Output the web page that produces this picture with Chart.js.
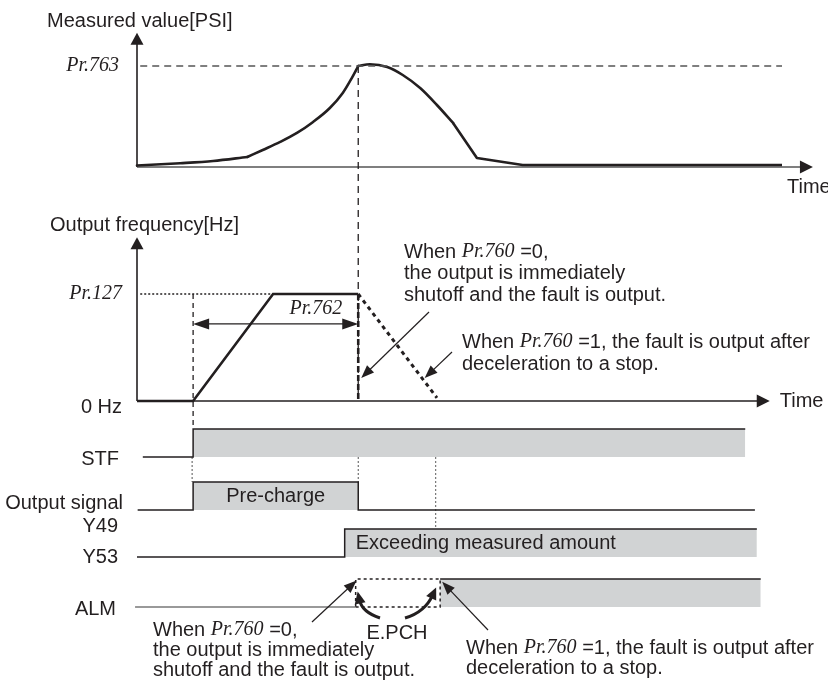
<!DOCTYPE html>
<html><head><meta charset="utf-8">
<script src="https://cdn.jsdelivr.net/npm/chart.js@4"></script>
<style>html,body{margin:0;padding:0;background:#fff}#wrap{width:828px;height:691px}</style>
</head><body><div id="wrap"><canvas id="c" width="828" height="691"></canvas></div>
<script>
// ---------------- DATA (time: 0 = origin, 100 = end of measured trace) ----------------
const baseTime  = [0, 6.7, 11.8, 17.1];
const baseValue = [1.5, 3.7, 5.9, 9.9];
const riseTime  = [17.1, 19.5, 22.2, 24.8, 27.3, 29.9, 31.9, 33.3, 34.3];
const riseValue = [9.9, 16.8, 24.8, 33.7, 44.6, 58.4, 73.3, 88.1, 100];
const fallTime  = [34.3, 36.1, 38.8, 41.2, 43.9, 46.5, 49.0];
const fallValue = [100, 101.7, 99, 91.1, 78.2, 61.4, 43.6];
const tailTime  = [49.0, 52.7, 59.8, 100];
const tailValue = [43.6, 8.9, 2, 2];
const thresholdTime = [0.5, 100];          // Pr.763 level line
const thresholdValue = [100, 100];

const freqTime  = [0, 8.7, 21.1, 34.3];
const freqValue = [0, 0, 100, 100];
const setFreqTime = [0.5, 21.1];           // Pr.127 level line
const setFreqValue = [100, 100];
const shutoffTime = [34.3, 34.3];
const shutoffValue = [100, 0];
const decelTime = [34.3, 46.5];
const decelValue = [100, 3];

const stfTime = [0.9, 8.7, 8.7, 94.3];            const stfLevel = [0, 0, 1, 1];
const y49Time = [0.1, 8.7, 8.7, 34.3, 34.3, 95.8]; const y49Level = [0, 0, 1, 1, 0, 0];
const y53Time = [0, 32.2, 32.2, 96.1];             const y53Level = [0, 0, 1, 1];
const almLowTime = [-0.3, 33.9];                   const almLowLevel = [0, 0];
const almPendTime = [33.9, 33.9, 47, 47, 33.9];    const almPendLevel = [0, 1, 1, 0, 0];
const almTime = [47, 96.7];                        const almLevel = [1, 1];

const startTime = 8.7, detectTime = 34.3, stopTime = 46.3, faultTime = 47;

const panelLabels = ['Measured value[PSI]', 'Output frequency[Hz]'];
const levelLabels = ['Pr.763', 'Pr.127', 'Pr.762'];
const signalLabels = ['STF', 'Output signal', 'Y49', 'Y53', 'ALM'];
const barLabels = ['Pre-charge', 'Exceeding measured amount', 'E.PCH'];

// ---------------- LAYOUT ----------------
const W = 828, H = 691;
const INK = '#231f20', FILL = '#d1d3d4';
const SANS = '20px "Liberation Sans", Arial, sans-serif';
const SERIF = 'italic 20px "Liberation Serif", "Times New Roman", serif';

function yRange(v0, p0, v1, p1) { const k = (p0 - p1) / (v1 - v0); const max = v0 + p0 / k; return {min: max - H / k, max}; }
function xRange(v0, p0, v1, p1) { const k = (p1 - p0) / (v1 - v0); const min = v0 - p0 / k; return {min, max: min + W / k}; }
const hid = r => Object.assign({type: 'linear', display: false, bounds: 'data'}, r);

const pts = (xs, ys) => xs.map((x, i) => ({x, y: ys[i]}));
const ds = (data, yAxisID, extra) => Object.assign({
  type: 'line', data, yAxisID, xAxisID: 'x', borderColor: INK, borderWidth: 1.5,
  pointRadius: 0, pointHoverRadius: 0, tension: 0, fill: false, borderCapStyle: 'butt'
}, extra);
const curve = {borderWidth: 2.6, cubicInterpolationMode: 'monotone', borderCapStyle: 'round'};

const datasets = [
  ds(pts(thresholdTime, thresholdValue), 'yPsi', {borderColor: '#555', borderWidth: 1.3, borderDash: [7, 5]}),
  ds(pts(baseTime, baseValue), 'yPsi', curve),
  ds(pts(riseTime, riseValue), 'yPsi', curve),
  ds(pts(fallTime, fallValue), 'yPsi', curve),
  ds(pts(tailTime, tailValue), 'yPsi', {borderWidth: 2.6, borderJoinStyle: 'round'}),
  ds(pts(setFreqTime, setFreqValue), 'yHz', {borderWidth: 1.3, borderDash: [2, 2]}),
  ds(pts(freqTime, freqValue), 'yHz', {borderWidth: 2.6}),
  ds(pts(shutoffTime, shutoffValue), 'yHz', {borderWidth: 2.6, borderDash: [6, 3]}),
  ds(pts(decelTime, decelValue), 'yHz', {borderWidth: 3, borderDash: [4, 4]}),
  ds(pts(stfTime, stfLevel), 'ySTF', {fill: 'origin', backgroundColor: FILL}),
  ds(pts(y49Time, y49Level), 'yY49', {fill: 'origin', backgroundColor: FILL}),
  ds(pts(y53Time, y53Level), 'yY53', {fill: 'origin', backgroundColor: FILL}),
  ds(pts(almLowTime, almLowLevel), 'yALM', {borderColor: '#777'}),
  ds(pts(almPendTime, almPendLevel), 'yALM', {borderDash: [3, 3]}),
  ds(pts(almTime, almLevel), 'yALM', {fill: 'origin', backgroundColor: FILL}),
];

function head(ctx, x, y, ang, len, wid) {
  ctx.save(); ctx.translate(x, y); ctx.rotate(ang);
  ctx.beginPath(); ctx.moveTo(0, 0); ctx.lineTo(-len, -wid / 2); ctx.lineTo(-len, wid / 2); ctx.closePath();
  ctx.fillStyle = INK; ctx.fill(); ctx.restore();
}
function arrow(ctx, x1, y1, x2, y2, lw, len, wid) {
  const a = Math.atan2(y2 - y1, x2 - x1);
  ctx.beginPath(); ctx.moveTo(x1, y1); ctx.lineTo(x2 - Math.cos(a) * len * 0.8, y2 - Math.sin(a) * len * 0.8);
  ctx.lineWidth = lw; ctx.strokeStyle = INK; ctx.setLineDash([]); ctx.stroke();
  head(ctx, x2, y2, a, len, wid);
}
function curved(ctx, x1, y1, cx, cy, x2, y2, lw, len, wid) {
  const a = Math.atan2(y2 - cy, x2 - cx);
  const bx = x2 - Math.cos(a) * len * 0.7, by = y2 - Math.sin(a) * len * 0.7;
  ctx.beginPath(); ctx.moveTo(x1, y1); ctx.quadraticCurveTo(cx, cy, bx, by);
  ctx.lineWidth = lw; ctx.strokeStyle = INK; ctx.setLineDash([]); ctx.stroke();
  head(ctx, x2, y2, a, len, wid);
}
function vline(ctx, x, y1, y2, lw, dash, color) {
  ctx.beginPath(); ctx.moveTo(x, y1); ctx.lineTo(x, y2);
  ctx.lineWidth = lw; ctx.strokeStyle = color || INK; ctx.setLineDash(dash); ctx.stroke(); ctx.setLineDash([]);
}
function rich(ctx, parts, x, y, align) {
  let w = 0; parts.forEach(([t, f]) => { ctx.font = f; w += ctx.measureText(t).width; });
  let cx = align === 'right' ? x - w : align === 'center' ? x - w / 2 : x;
  ctx.textAlign = 'left'; ctx.textBaseline = 'middle'; ctx.fillStyle = INK;
  parts.forEach(([t, f]) => { ctx.font = f; ctx.fillText(t, cx, y); cx += ctx.measureText(t).width; });
}
const S = t => [t, SANS], I = t => [t, SERIF];

const diagram = {
  id: 'diagram',
  beforeDraw(chart) { const c = chart.ctx; c.save(); c.fillStyle = '#fff'; c.fillRect(0, 0, W, H); c.restore(); },
  beforeDatasetsDraw(chart) {
    const c = chart.ctx, s = chart.scales;
    const X = v => s.x.getPixelForValue(v), P = v => s.yPsi.getPixelForValue(v), F = v => s.yHz.getPixelForValue(v);
    c.save();
    // top panel axes
    c.beginPath(); c.moveTo(X(0), P(0)); c.lineTo(X(0), P(133) + 10); c.lineWidth = 1.6; c.strokeStyle = INK; c.stroke();
    head(c, X(0), P(133), -Math.PI / 2, 12, 13);
    c.beginPath(); c.moveTo(X(0), P(0)); c.lineTo(X(104.8) - 10, P(0)); c.strokeStyle = '#555'; c.lineWidth = 1.6; c.stroke();
    head(c, X(104.8), P(0), 0, 13, 13);
    // frequency panel axes
    c.beginPath(); c.moveTo(X(0), F(0)); c.lineTo(X(0), F(153) + 10); c.lineWidth = 1.6; c.strokeStyle = INK; c.stroke();
    head(c, X(0), F(153), -Math.PI / 2, 12, 13);
    c.beginPath(); c.moveTo(X(0), F(0)); c.lineTo(X(98.1) - 10, F(0)); c.lineWidth = 1.3; c.stroke();
    head(c, X(98.1), F(0), 0, 13, 13);
    // guide lines
    vline(c, X(detectTime), P(100), F(0), 1.3, [7, 5]);
    vline(c, X(startTime), F(100), s.ySTF.getPixelForValue(1), 1.3, [5, 4]);
    vline(c, X(startTime) - 1, s.ySTF.getPixelForValue(0), s.yY49.getPixelForValue(1), 1, [2, 2], '#555');
    vline(c, X(detectTime), s.ySTF.getPixelForValue(0), s.yY49.getPixelForValue(1), 1, [2, 2], '#555');
    vline(c, X(stopTime), s.ySTF.getPixelForValue(0), s.yY53.getPixelForValue(1), 1.2, [2, 2], '#777');
    c.restore();
  },
  afterDatasetsDraw(chart) {
    const c = chart.ctx, s = chart.scales;
    const X = v => s.x.getPixelForValue(v), P = v => s.yPsi.getPixelForValue(v), F = v => s.yHz.getPixelForValue(v);
    const A = v => s.yALM.getPixelForValue(v);
    c.save();
    const ax = X(0);
    // panel titles & levels
    rich(c, [S(panelLabels[0])], ax - 90, P(133) - 11, 'left');
    rich(c, [I(levelLabels[0])], ax - 18, P(100), 'right');
    rich(c, [S('Time')], X(100) + 5, P(0) + 20, 'left');
    rich(c, [S(panelLabels[1])], ax - 87, F(153) - 12, 'left');
    rich(c, [I(levelLabels[1])], ax - 15, F(100), 'right');
    rich(c, [S('0 Hz')], ax - 15, F(0) + 6, 'right');
    rich(c, [S('Time')], X(98.1) + 10, F(0), 'left');
    // Pr.762 span
    const yA = F(72);
    c.beginPath(); c.moveTo(X(startTime) + 12, yA); c.lineTo(X(detectTime) - 12, yA); c.lineWidth = 1.3; c.strokeStyle = INK; c.stroke();
    head(c, X(startTime), yA, Math.PI, 16, 11);
    head(c, X(detectTime), yA, 0, 16, 11);
    rich(c, [I(levelLabels[2])], X(detectTime) - 16, F(86), 'right');
    // frequency annotations
    rich(c, [S('When '), I('Pr.760'), S(' =0,')], 404, 252, 'left');
    rich(c, [S('the output is immediately')], 404, 273, 'left');
    rich(c, [S('shutoff and the fault is output.')], 404, 295, 'left');
    arrow(c, 429, 312, X(detectTime) + 3, F(21.5), 1.2, 13, 10);
    rich(c, [S('When '), I('Pr.760'), S(' =1, the fault is output after')], 462, 342, 'left');
    rich(c, [S('deceleration to a stop.')], 462, 364, 'left');
    arrow(c, 452, 352, X(44.6), F(21.5), 1.2, 13, 10);
    // signal labels
    rich(c, [S(signalLabels[0])], 119, s.ySTF.getPixelForValue(-0.1), 'right');
    rich(c, [S(signalLabels[1])], 123, s.yY49.getPixelForValue(0.25), 'right');
    rich(c, [S(signalLabels[2])], 118, s.yY49.getPixelForValue(-0.6), 'right');
    rich(c, [S(signalLabels[3])], 118, s.yY53.getPixelForValue(0), 'right');
    rich(c, [S(signalLabels[4])], 116, A(-0.1), 'right');
    rich(c, [S(barLabels[0])], (X(startTime) + X(detectTime)) / 2, s.yY49.getPixelForValue(0.5), 'center');
    rich(c, [S(barLabels[1])], X(y53Time[1]) + 11, s.yY53.getPixelForValue(0.5), 'left');
    rich(c, [S(barLabels[2])], 397, 633, 'center');
    // E.PCH arrows
    curved(c, 380, 618, 362, 612, X(33.9) + 2, A(0.55), 3, 12, 11);
    curved(c, 405, 618, 425, 612, X(faultTime) - 4, A(0.7), 3, 12, 11);
    // alarm annotations
    arrow(c, 312, 622, X(33.9) + 1, A(0.95), 1.2, 13, 10);
    arrow(c, 488, 630, X(faultTime) + 2, A(0.9), 1.2, 13, 10);
    rich(c, [S('When '), I('Pr.760'), S(' =0,')], 153, 630, 'left');
    rich(c, [S('the output is immediately')], 153, 650, 'left');
    rich(c, [S('shutoff and the fault is output.')], 153, 670, 'left');
    rich(c, [S('When '), I('Pr.760'), S(' =1, the fault is output after')], 466, 648, 'left');
    rich(c, [S('deceleration to a stop.')], 466, 668, 'left');
    c.restore();
  }
};

new Chart(document.getElementById('c'), {
  type: 'line',
  data: {datasets},
  options: {
    responsive: false, animation: false, devicePixelRatio: 1,
    layout: {padding: 0, autoPadding: false},
    plugins: {legend: {display: false}, tooltip: {enabled: false}},
    events: [],
    scales: {
      x: hid(xRange(0, 137, 100, 782)),
      yPsi: hid(yRange(0, 167, 100, 66)),
      yHz: hid(yRange(0, 401, 100, 294)),
      ySTF: hid(yRange(0, 457, 1, 429)),
      yY49: hid(yRange(0, 510, 1, 482)),
      yY53: hid(yRange(0, 557, 1, 529)),
      yALM: hid(yRange(0, 607, 1, 579))
    }
  },
  plugins: [diagram]
});
</script>
</body></html>
